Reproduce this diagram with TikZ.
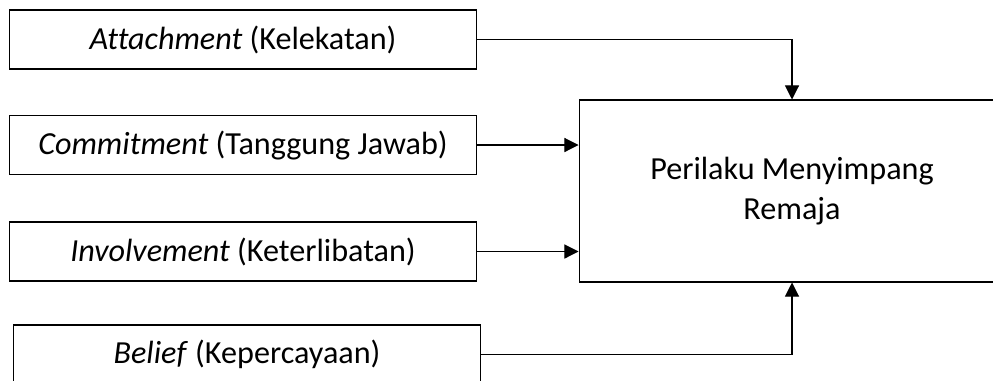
\documentclass[tikz,border=0pt]{standalone}
\usepackage{fontspec}
\setmainfont{Carlito}[Ligatures=NoCommon]
\usetikzlibrary{arrows.meta}

\tikzset{
  faktor/.style={draw, line width=0.6pt, minimum width=9.36cm, minimum height=1.18cm,
    inner sep=0pt, font=\fontsize{18.3}{22}\selectfont},
  hasil/.style={draw, line width=0.6pt, minimum width=8.52cm, minimum height=3.64cm,
    align=center, font=\fontsize{18.3}{23}\selectfont},
  panah/.style={line width=0.6pt, -{Triangle[length=8pt,width=8pt]}}
}

\begin{document}
\begin{tikzpicture}[x=0.02cm,y=-0.02cm]
\useasboundingbox (0,0) rectangle (993,380);

% faktor kontrol sosial
\node[faktor] (attach)  at (243,39.5)  {\textit{Attachment} (Kelekatan)};
\node[faktor] (commit)  at (243,145)   {\textit{Commitment} (Tanggung Jawab)};
\node[faktor] (involve) at (243,251.5) {\textit{Involvement} (Keterlibatan)};
\node[faktor] (belief)  at (247,354.5) {\textit{Belief} (Kepercayaan)};

\node[hasil] (perilaku) at (792,191) {Perilaku Menyimpang\\Remaja};

% panah
\draw[panah] (attach.east) -| (perilaku.north);
\draw[panah] (commit.east) -- (commit.east -| perilaku.west);
\draw[panah] (involve.east) -- (involve.east -| perilaku.west);
\draw[panah] (belief.east) -| (perilaku.south);

\end{tikzpicture}
\end{document}
